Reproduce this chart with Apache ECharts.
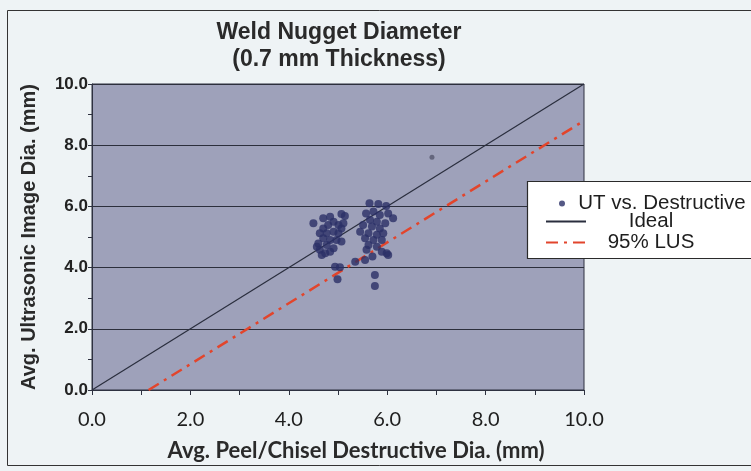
<!DOCTYPE html>
<html>
<head>
<meta charset="utf-8">
<script src="https://cdn.jsdelivr.net/npm/echarts@6/dist/echarts.min.js"></script>
<style>
html,body{margin:0;padding:0;background:#eef3f5;}
#chart{width:751px;height:471px;}
</style>
</head>
<body>
<div id="chart"></div>
<script>
const titleLines = ['Weld Nugget Diameter', '(0.7 mm Thickness)'];
const xAxisName = 'Avg. Peel/Chisel Destructive Dia. (mm)';
const yAxisName = 'Avg. Ultrasonic Image Dia. (mm)';
const seriesNames = ['UT vs. Destructive', 'Ideal', '95% LUS'];

const destructiveDia = [
  4.50,4.70,4.84,5.07,5.14,4.70,4.80,4.91,5.01,5.07,4.63,4.77,4.91,5.01,4.70,4.84,4.97,5.07,4.60,4.77,
  4.91,4.63,4.74,4.84,4.67,4.94,5.04,4.99,4.57,5.11,
  5.64,5.82,5.98,5.57,5.72,5.85,6.02,6.12,5.65,5.79,5.96,5.51,5.69,5.85,5.45,5.62,5.79,5.92,5.55,5.72,
  5.89,5.62,5.79,5.89,6.02,5.35,5.55,5.70,5.75,5.75,5.58,5.99
];
const ultrasonicDia = [
  5.45,5.61,5.66,5.75,5.69,5.28,5.39,5.50,5.39,5.28,5.12,5.12,5.17,5.12,4.96,4.90,4.90,4.85,4.79,4.74,
  4.63,4.58,4.47,4.52,4.41,4.03,4.01,3.62,4.68,5.45,
  6.10,6.08,6.01,5.77,5.83,5.72,5.77,5.61,5.56,5.50,5.45,5.39,5.34,5.28,5.17,5.12,5.07,5.12,4.96,4.90,
  4.90,4.74,4.68,4.52,4.41,4.19,4.25,4.36,3.76,3.40,4.58,4.47
];
const outlierPoint = [6.91, 7.61];
const idealLineX = [0, 10];
const idealLineY = [0, 10];
const lusLineX = [1.15, 10];
const lusLineY = [0, 8.8];

const utData = destructiveDia.map((x, i) => [x, ultrasonicDia[i]]);
const idealData = idealLineX.map((x, i) => [x, idealLineY[i]]);
const lusData = lusLineX.map((x, i) => [x, lusLineY[i]]);

const chart = echarts.init(document.getElementById('chart'));
const legendText = (w) => ({
  formatter: (n) => '{a|' + n + '}',
  textStyle: { rich: { a: { width: w, align: 'center', fontFamily: 'Liberation Sans, Arial, sans-serif', fontSize: 20.5, color: '#1e1e1e', lineHeight: 20 } } }
});
chart.setOption({
  backgroundColor: '#eef3f5',
  animation: false,
  title: {
    text: titleLines.join('\n'),
    left: 339, top: 19, padding: 0,
    textAlign: 'center',
    textStyle: { fontFamily: 'Liberation Sans, Arial, sans-serif', fontWeight: 'bold', fontSize: 23, lineHeight: 27, color: '#2a2a2a' }
  },
  graphic: [
    { type: 'rect', z: -10, silent: true, shape: { x: 7.5, y: 10.5, width: 760, height: 455 }, style: { fill: 'none', stroke: '#333', lineWidth: 1 } },
    { type: 'rect', z: 3, silent: true, shape: { x: 527.5, y: 181.5, width: 240, height: 77 }, style: { fill: '#ffffff', stroke: '#2a2a2a', lineWidth: 1.2 } }
  ],
  legend: [
    Object.assign({
      data: [{ name: seriesNames[0], icon: 'circle' }],
      orient: 'vertical', left: 559, top: 193, padding: 0, itemWidth: 6, itemHeight: 6, itemGap: 0, z: 5
    }, legendText(184)),
    Object.assign({
      data: [
        { name: seriesNames[1], itemStyle: { opacity: 0 } },
        { name: seriesNames[2], itemStyle: { opacity: 0 } }
      ],
      orient: 'vertical', left: 545, top: 211, padding: 0, itemWidth: 40, itemHeight: 14, itemGap: 0, z: 5
    }, legendText(120))
  ],
  grid: {
    left: 92, right: 167, top: 84, bottom: 81,
    show: true, backgroundColor: '#9ea1ba', borderColor: '#2e3140', borderWidth: 1
  },
  xAxis: {
    type: 'value', min: 0, max: 10, interval: 2,
    name: xAxisName, nameLocation: 'middle', nameGap: 50,
    nameTextStyle: { fontFamily: 'Lato, sans-serif', fontWeight: 'bold', fontSize: 22, color: '#2a2a2a', padding: [0, 0, 0, 36] },
    axisLine: { show: true, lineStyle: { color: '#2e3140', width: 1 } },
    axisTick: { show: true, inside: false, length: 5, lineStyle: { color: '#2e3140' } },
    minorTick: { show: true, splitNumber: 2, length: 5, lineStyle: { color: '#2e3140' } },
    splitLine: { show: false },
    axisLabel: { margin: 20, fontFamily: 'Lato, sans-serif', fontSize: 20, color: '#1e1e1e', formatter: (v) => v.toFixed(1) }
  },
  yAxis: {
    type: 'value', min: 0, max: 10, interval: 2,
    name: yAxisName, nameLocation: 'middle', nameGap: 53, nameRotate: 90,
    nameTextStyle: { fontFamily: 'Liberation Sans, Arial, sans-serif', fontWeight: 'bold', fontSize: 20, color: '#2a2a2a' },
    axisLine: { show: true, lineStyle: { color: '#2e3140', width: 1 } },
    axisTick: { show: true, inside: false, length: 4, lineStyle: { color: '#2e3140' } },
    minorTick: { show: true, splitNumber: 2, length: 4, lineStyle: { color: '#2e3140' } },
    splitLine: { show: true, lineStyle: { color: '#2c2f3c', width: 1 } },
    axisLabel: { margin: 4, fontFamily: 'Liberation Sans, Arial, sans-serif', fontWeight: 'bold', fontSize: 17, color: '#222', formatter: (v) => v.toFixed(1) }
  },
  series: [
    {
      name: seriesNames[0], type: 'scatter', symbol: 'circle', symbolSize: 8, z: 2,
      itemStyle: { color: '#2b2f66' },
      data: utData.concat([{ value: outlierPoint, symbolSize: 5, itemStyle: { color: '#55586e' } }])
    },
    {
      name: seriesNames[1], type: 'line', showSymbol: false, symbol: 'none', z: 1,
      lineStyle: { color: '#2a2e3e', width: 1.2 }, itemStyle: { color: '#2a2e3e' },
      data: idealData
    },
    {
      name: seriesNames[2], type: 'line', showSymbol: false, symbol: 'none', z: 1,
      lineStyle: { color: '#e2452c', width: 2.5, type: [12, 6, 3, 6] }, itemStyle: { color: '#e2452c' },
      data: lusData
    }
  ]
});
</script>
</body>
</html>
